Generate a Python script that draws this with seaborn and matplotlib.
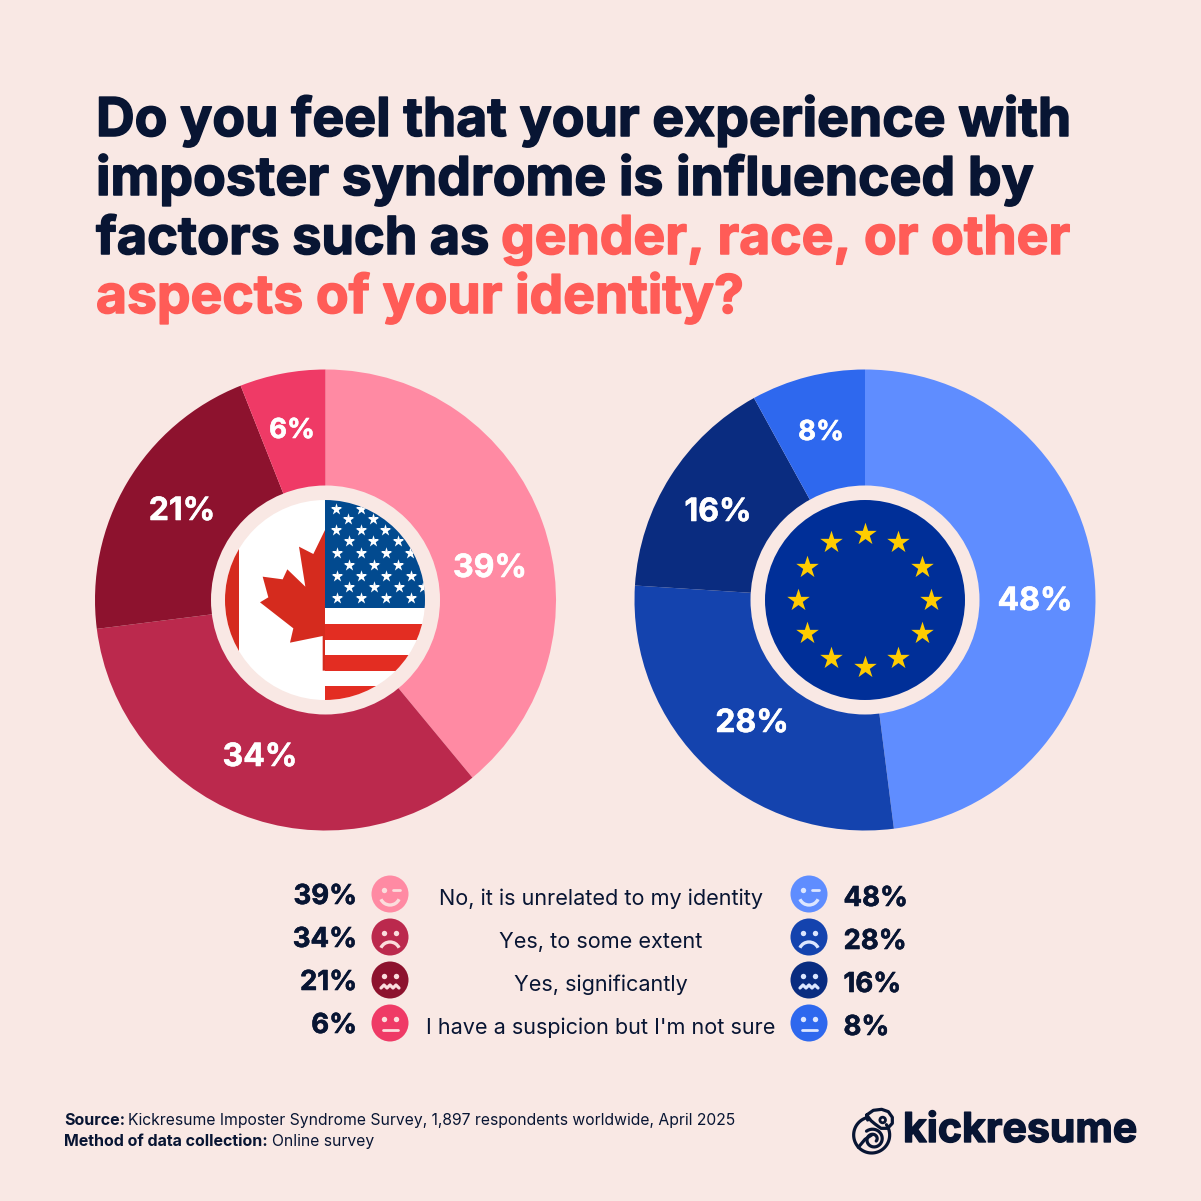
import numpy as np
import matplotlib
matplotlib.use("Agg")
import matplotlib.pyplot as plt
import matplotlib.patheffects as pe
from matplotlib.patches import Circle, Polygon, Rectangle, Arc
import seaborn as sns

categories = ["No, it is unrelated to my identity", "Yes, to some extent",
              "Yes, significantly", "I have a suspicion but I'm not sure"]
na_values = [39, 34, 21, 6]
eu_values = [48, 28, 16, 8]
na_colors = ["#FF8AA3", "#BB294D", "#8D122E", "#EF3A66"]
eu_colors = ["#5F8DFF", "#1443AE", "#0A2C80", "#2E68EE"]

BG = "#F9E8E4"; NAVY = "#081533"; CORAL = "#FF5C57"
FONT = "Inter"

sns.set_theme(style="white", rc={"figure.facecolor": BG, "axes.facecolor": BG})
plt.rcParams["font.family"] = [FONT, "DejaVu Sans"]

fig = plt.figure(figsize=(12.01, 12.01), dpi=100)
ax = fig.add_axes([0, 0, 1, 1])
H = 1201
def Y(p): return H - p
px = 0.72  # pixels to points
def heavy(t, w, c):
    t.set_path_effects([pe.withStroke(linewidth=w, foreground=c)])
    return t

# ---------- title ----------
for txt, x, yb, c, sz in [("Do you feel that your experience with", 96, 136, NAVY, 53.5),
                          ("imposter syndrome is influenced by", 96, 195, NAVY, 53.5),
                          ("factors such as", 96, 254, NAVY, 52.3),
                          ("gender, race, or other", 501, 254, CORAL, 53.4),
                          ("aspects of your identity?", 96, 313, CORAL, 53.4)]:
    heavy(ax.text(x, Y(yb), txt, fontsize=sz * px, fontweight="bold", color=c, va="baseline", ha="left"),
          1.1, c)

# ---------- donuts ----------
for vals, cols, cx in [(na_values, na_colors, 325.5), (eu_values, eu_colors, 865)]:
    ax.pie(vals, colors=sns.color_palette(cols), startangle=90, counterclock=False,
           center=(cx, Y(600)), radius=230.5, frame=True,
           wedgeprops={"linewidth": 0})
    ax.add_patch(Circle((cx, Y(600)), 114.5, fc=BG, ec="none", zorder=3))

pos_na = [(490, 565), (260, 754), (182, 508), (292, 428)]
pos_eu = [(1035, 598), (752, 720), (718, 509), (821, 430)]
for vals, pos in [(na_values, pos_na), (eu_values, pos_eu)]:
    for i, (v, (x, y)) in enumerate(zip(vals, pos)):
        sz = 27.5 if i == 3 else 32
        heavy(ax.text(x, Y(y), f"{v}%", color="white", fontsize=sz * px, fontweight="bold",
                      ha="center", va="center_baseline", zorder=5), 0.4, "white")

# ---------- Canada / USA badge ----------
clip = Circle((325, Y(600)), 100, transform=ax.transData)
def add(p):
    p.set_zorder(4); ax.add_patch(p); p.set_clip_path(clip); return p
add(Rectangle((225, Y(701)), 100, 201, fc="white", ec="none"))
add(Rectangle((225, Y(701)), 14, 201, fc="#D52B1E", ec="none"))
leaf = [(375,150),(340,222),(297,200),(316,320),(262,268),(248,298),(188,290),(205,352),(180,367),
        (280,445),(270,488),(368,468),(368,572),(375,572)]
add(Polygon([(200 + a / 3, Y(480 + b / 3)) for a, b in leaf], fc="#D52B1E", ec="none"))
add(Rectangle((325, Y(608)), 100, 108, fc="#024A8F", ec="none"))
add(Rectangle((325, Y(701)), 100, 93, fc="white", ec="none"))
for top, bot in [(624, 639.5), (655, 671), (686, 701)]:
    add(Rectangle((325, Y(bot)), 100, bot - top, fc="#E32D22", ec="none"))
rows = [(88,[407,482,556]),(118,[445,518,593]),(150,[409,482,556,630]),(184,[446,520,593,668]),
        (220,[410,484,557,630]),(254,[447,521,594,668]),(288,[410,484,557,632]),(322,[448,522,596,668]),
        (354,[410,484,557,632])]
for zy, xs in rows:
    sc = ax.scatter([200 + a / 3 for a in xs], [Y(480 + zy / 3)] * len(xs), marker="*", s=80,
                    c="white", linewidths=0, zorder=5)
    sc.set_clip_path(clip)

# ---------- EU badge ----------
ax.add_patch(Circle((865, Y(600)), 100, fc="#002F98", ec="none", zorder=4))
ang = np.deg2rad(np.arange(0, 360, 30))
ax.scatter(865 - 0.5 + 66.5 * np.sin(ang), Y(600) + 66.5 * np.cos(ang), marker="*", s=290,
           c="#FFCC00", linewidths=0, zorder=5)

# ---------- legend ----------
rowsy = [896, 939, 982, 1025]
face = "#FBDDDD"; faceb = "#DCE6FF"
def draw_face(cx, cy, col, fc, kind):
    ax.add_patch(Circle((cx, Y(cy)), 18.5, fc=col, ec="none", zorder=3))
    lw = 2.0
    kw = dict(color=fc, lw=lw, solid_capstyle="round", zorder=4)
    if kind == 0:
        ax.scatter([cx - 6], [Y(cy - 4)], s=15, c=fc, linewidths=0, zorder=4)
        ax.plot([cx + 3, cx + 10], [Y(cy - 4)] * 2, **kw)
        ax.add_patch(Arc((cx, Y(cy + 1)), 20, 20, theta1=205, theta2=335, color=fc, lw=lw + 0.4, zorder=4))
    else:
        ax.scatter([cx - 6, cx + 6], [Y(cy - 4)] * 2, s=15, c=fc, linewidths=0, zorder=4)
    if kind == 1:
        ax.add_patch(Arc((cx, Y(cy + 15)), 20, 20, theta1=25, theta2=155, color=fc, lw=lw + 0.4, zorder=4))
    if kind == 2:
        zx = cx + np.array([-9, -6, -3, 0, 3, 6, 9])
        zy = cy + np.array([8, 5, 8, 5, 8, 5, 8])
        ax.plot(zx, Y(zy), color=fc, lw=lw + 0.3, zorder=4, solid_capstyle="round")
    if kind == 3:
        ax.plot([cx - 7.5, cx + 7.5], [Y(cy + 7)] * 2, **kw)

for i, (cat, y) in enumerate(zip(categories, rowsy)):
    ax.text(601, Y(y + 1), cat, fontsize=21.6 * px, color=NAVY, ha="center", va="center_baseline")
    heavy(ax.text(357, Y(y - 2), f"{na_values[i]}%", fontsize=27.5 * px, fontweight="bold", color=NAVY,
                  ha="right", va="center_baseline"), 0.4, NAVY)
    heavy(ax.text(843.5, Y(y), f"{eu_values[i]}%", fontsize=27.5 * px, fontweight="bold", color=NAVY,
                  ha="left", va="center_baseline"), 0.4, NAVY)
    draw_face(390, y - 2, na_colors[i], face, i)
    draw_face(809, y - 2, eu_colors[i], faceb, i)

# ---------- footer ----------
ffs = 15.7 * px
ax.text(64, Y(1125), "Source:", fontsize=16 * px, fontweight="bold", color=NAVY, va="baseline")
ax.text(128, Y(1125), "Kickresume Imposter Syndrome Survey, 1,897 respondents worldwide, April 2025",
        fontsize=ffs, color=NAVY, va="baseline")
ax.text(64, Y(1146), "Method of data collection:", fontsize=16 * px, fontweight="bold", color=NAVY, va="baseline")
ax.text(272, Y(1146), "Online survey", fontsize=ffs, color=NAVY, va="baseline")

# ---------- logo ----------
heavy(ax.text(903, Y(1142), "kickresume", fontsize=41 * px, fontweight="bold", color=NAVY, va="baseline"),
      1.0, NAVY)
def zp(pts):
    a = np.array(pts, float)
    return 845 + a[:, 0] / 3, Y(1100 + a[:, 1] / 3)
lk = dict(color=NAVY, lw=2.3, zorder=4, solid_joinstyle="round", solid_capstyle="round")
t = np.deg2rad(np.linspace(105, 395, 60))
bx, by = zp(np.c_[80 + 54 * np.cos(t), 105 - 54 * np.sin(t)])
ax.plot(bx, by, **lk)
hx, hy = zp([(65,45),(85,31),(110,28),(130,35),(142,52),(142,70),(128,85),(108,85),(90,72),(78,62),(65,45),(68,60)])
ax.plot(hx, hy, **lk)
lx, ly = zp([(40,142),(60,118),(80,105)])
ax.plot(lx, ly, **lk)
t = np.linspace(0, 1, 50)
th = np.deg2rad(130 - 520 * t)
r = 32 - 22 * t
sx, sy = zp(np.c_[85 + r * np.cos(th), 118 - r * np.sin(th)])
ax.plot(sx, sy, **lk)
ex, ey = zp([(113,60)])
ax.add_patch(Circle((ex[0], ey[0]), 2.8, fc="none", ec=NAVY, lw=2.0, zorder=4))

ax.set_xlim(0, 1201); ax.set_ylim(0, 1201)
ax.set_aspect("equal"); ax.axis("off")
fig.savefig("out.png", dpi=100, facecolor=BG)
